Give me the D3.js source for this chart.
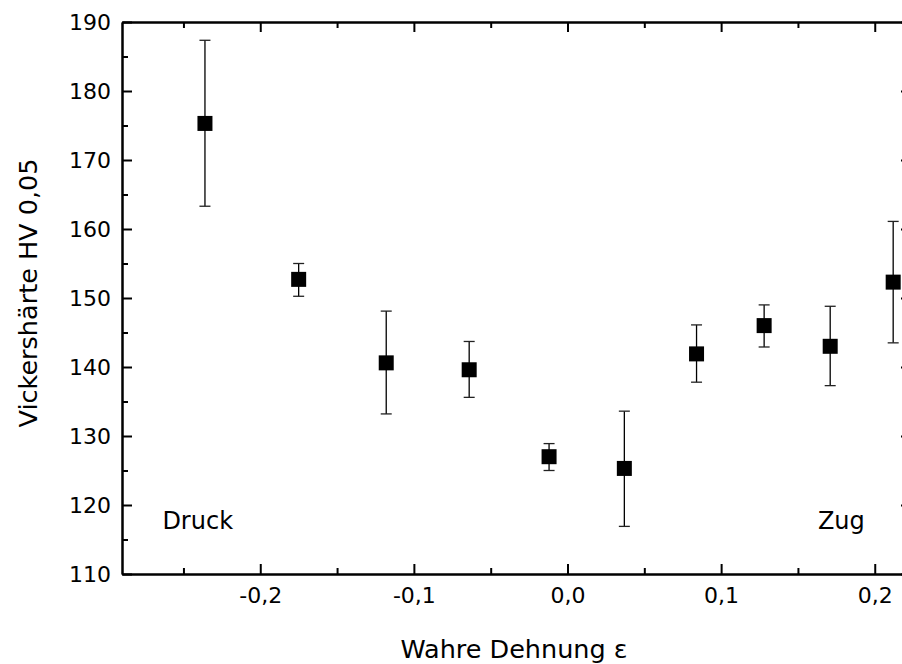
<!DOCTYPE html>
<html>
<head>
<meta charset="utf-8">
<script src="https://cdn.jsdelivr.net/npm/d3@7"></script>
<style>
  html, body { margin: 0; padding: 0; background: #fff; }
  svg { display: block; font-family: "DejaVu Sans", Verdana, sans-serif; }
</style>
</head>
<body>
<svg id="chart" width="902" height="664"></svg>
<script>
// Data
const strain   = [-0.236, -0.175, -0.118, -0.064, -0.012, 0.037, 0.084, 0.128, 0.171, 0.212];
const hardness = [175.3, 152.7, 140.6, 139.6, 127.0, 125.3, 141.9, 146.0, 143.0, 152.3];
const errUpper = [187.35, 155.0, 148.1, 143.7, 128.9, 133.6, 146.1, 149.0, 148.8, 161.1];
const errLower = [163.3, 150.25, 133.2, 135.6, 125.0, 116.9, 137.8, 142.9, 137.3, 143.5];

const xTicks = [-0.2, -0.1, 0.0, 0.1, 0.2];
const xMinorTicks = [-0.25, -0.15, -0.05, 0.05, 0.15];
const yTicks = [110, 120, 130, 140, 150, 160, 170, 180, 190];
const yMinorTicks = [115, 125, 135, 145, 155, 165, 175, 185];

const notes = [
  { text: "Druck", x: -0.2637, y: 116.5 },
  { text: "Zug",   x: 0.163,  y: 116.5 }
];
const xTitle = "Wahre Dehnung ε";
const yTitle = "Vickershärte HV 0,05";

const svg = d3.select("#chart");
const L = 122, R = 911, T = 22, B = 574;

const x = d3.scaleLinear().domain([-0.29, 0.2236]).range([L, R]);
const y = d3.scaleLinear().domain([110, 190]).range([B, T]);

const fmt = d => d3.format(".1f")(d).replace(".", ",").replace("−", "-");

function styleAxis(g) {
  g.selectAll("path.domain").attr("stroke", "#000").attr("stroke-width", 2);
  g.selectAll(".tick line").attr("stroke", "#000").attr("stroke-width", 2);
  g.selectAll(".tick text").attr("fill", "#000")
    .attr("font-family", "DejaVu Sans, Verdana, sans-serif").attr("font-size", 22);
}

// Bottom axis
svg.append("g").attr("transform", `translate(0,${B})`)
  .call(d3.axisBottom(x).tickValues(xTicks).tickFormat(fmt).tickSizeInner(-10).tickSizeOuter(0).tickPadding(13))
  .call(styleAxis);
svg.append("g").attr("transform", `translate(0,${B})`)
  .call(d3.axisBottom(x).tickValues(xMinorTicks).tickFormat("").tickSizeInner(-6).tickSizeOuter(0))
  .call(styleAxis);
// Top axis
svg.append("g").attr("transform", `translate(0,${T})`)
  .call(d3.axisTop(x).tickValues(xTicks).tickFormat("").tickSizeInner(-10).tickSizeOuter(0))
  .call(styleAxis);
svg.append("g").attr("transform", `translate(0,${T})`)
  .call(d3.axisTop(x).tickValues(xMinorTicks).tickFormat("").tickSizeInner(-6).tickSizeOuter(0))
  .call(styleAxis);
// Left axis
svg.append("g").attr("transform", `translate(${L},0)`)
  .call(d3.axisLeft(y).tickValues(yTicks).tickFormat(d3.format("d")).tickSizeInner(-10).tickSizeOuter(0).tickPadding(11))
  .call(styleAxis);
svg.append("g").attr("transform", `translate(${L},0)`)
  .call(d3.axisLeft(y).tickValues(yMinorTicks).tickFormat("").tickSizeInner(-6).tickSizeOuter(0))
  .call(styleAxis);
// Right axis
svg.append("g").attr("transform", `translate(${R},0)`)
  .call(d3.axisRight(y).tickValues(yTicks).tickFormat("").tickSizeInner(-10).tickSizeOuter(0))
  .call(styleAxis);
svg.append("g").attr("transform", `translate(${R},0)`)
  .call(d3.axisRight(y).tickValues(yMinorTicks).tickFormat("").tickSizeInner(-6).tickSizeOuter(0))
  .call(styleAxis);

const data = strain.map((s, i) => ({ x: s, v: hardness[i], hi: errUpper[i], lo: errLower[i] }));

// Error bars
const eb = svg.append("g");
eb.append("g").selectAll("line").data(data).join("line")
  .attr("x1", d => x(d.x)).attr("x2", d => x(d.x))
  .attr("y1", d => y(d.hi)).attr("y2", d => y(d.lo))
  .attr("stroke", "#000").attr("stroke-width", 1.3);
eb.append("g").selectAll("line").data(data).join("line")
  .attr("x1", d => x(d.x) - 5.5).attr("x2", d => x(d.x) + 5.5)
  .attr("y1", d => y(d.hi)).attr("y2", d => y(d.hi))
  .attr("stroke", "#222").attr("stroke-width", 1.3);
eb.append("g").selectAll("line").data(data).join("line")
  .attr("x1", d => x(d.x) - 5.5).attr("x2", d => x(d.x) + 5.5)
  .attr("y1", d => y(d.lo)).attr("y2", d => y(d.lo))
  .attr("stroke", "#222").attr("stroke-width", 1.3);

// Markers
const ms = 15;
svg.append("g").selectAll("rect").data(data).join("rect")
  .attr("x", d => x(d.x) - ms / 2).attr("y", d => y(d.v) - ms / 2)
  .attr("width", ms).attr("height", ms).attr("fill", "#000");

// Annotations
svg.append("g").selectAll("text").data(notes).join("text")
  .attr("x", d => x(d.x)).attr("y", d => y(d.y))
  .attr("font-size", 24).attr("fill", "#000").text(d => d.text);

// Axis titles
svg.append("text").attr("x", 514).attr("y", 658).attr("text-anchor", "middle")
  .attr("font-size", 25.5).attr("fill", "#000").text(xTitle);
svg.append("text").attr("transform", `translate(37,${(T + B) / 2 - 5}) rotate(-90)`)
  .attr("text-anchor", "middle").attr("font-size", 25.5).attr("fill", "#000").text(yTitle);
</script>
</body>
</html>
